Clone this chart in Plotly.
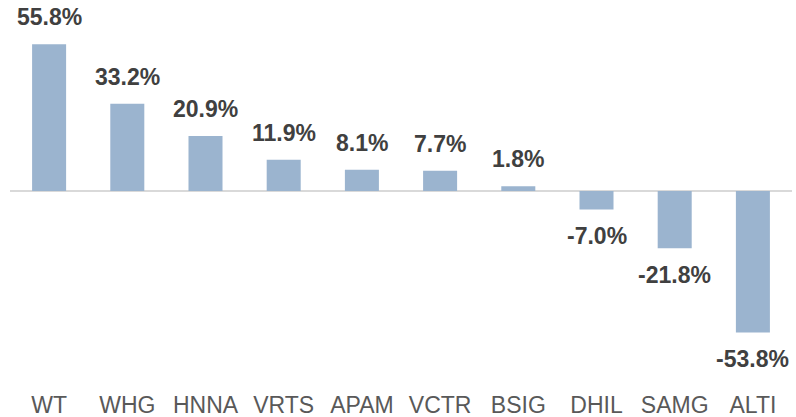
import plotly.graph_objects as go

tickers = ["WT", "WHG", "HNNA", "VRTS", "APAM", "VCTR", "BSIG", "DHIL", "SAMG", "ALTI"]
returns = [55.8, 33.2, 20.9, 11.9, 8.1, 7.7, 1.8, -7.0, -21.8, -53.8]
labels = ["55.8%", "33.2%", "20.9%", "11.9%", "8.1%", "7.7%", "1.8%", "-7.0%", "-21.8%", "-53.8%"]

BAR = "#9bb4cf"
FONT = "Liberation Sans, Arial, sans-serif"

fig = go.Figure(go.Bar(x=tickers, y=returns, marker=dict(color=BAR, line=dict(width=0)),
                       hoverinfo="skip"))

for t, v, lab in zip(tickers, returns, labels):
    fig.add_annotation(x=t, y=v, text=f"<b>{lab}</b>", showarrow=False,
                       yshift=27 if v >= 0 else -27,
                       font=dict(family=FONT, size=23, color="#404040"))

px_per_unit = 2.63
zero_px = 191
top_px = 0
bot_px = 389
fig.update_layout(
    width=796, height=417,
    margin=dict(l=10, r=4, t=top_px, b=417 - bot_px),
    plot_bgcolor="white", paper_bgcolor="white",
    bargap=0.565,
    showlegend=False,
    font=dict(family=FONT),
    xaxis=dict(showgrid=False, showline=False, ticks="", zeroline=False,
               tickfont=dict(family=FONT, size=23, color="#595959")),
    yaxis=dict(range=[-(bot_px - zero_px) / px_per_unit, (zero_px - top_px) / px_per_unit],
               showgrid=False, showticklabels=False, zeroline=True,
               zerolinecolor="#d9d9d9", zerolinewidth=2, fixedrange=True),
)
fig.write_html("out.html", config={"displayModeBar": False},
               post_script="document.body.style.margin='0';document.body.style.overflow='hidden';")
